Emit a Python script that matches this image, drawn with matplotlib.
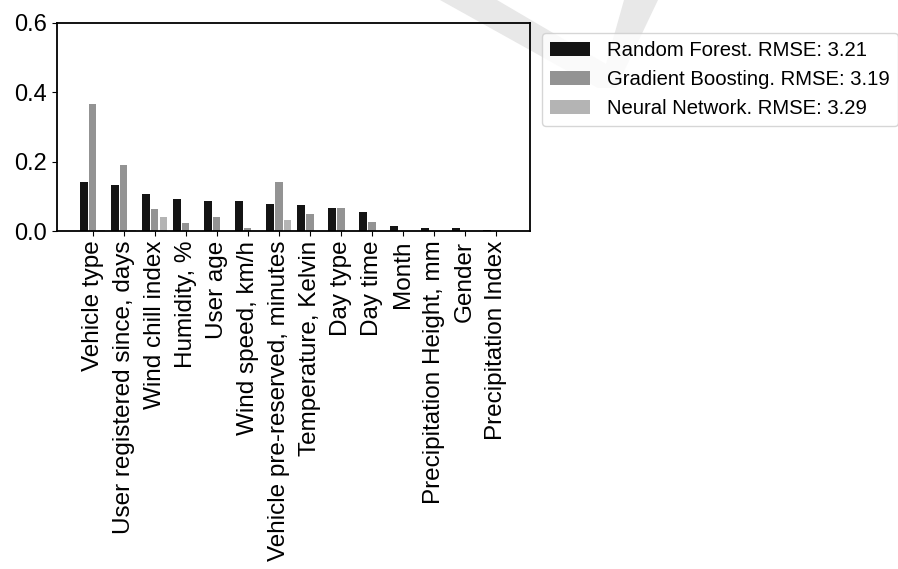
import numpy as np
import matplotlib
matplotlib.use("Agg")
import matplotlib.pyplot as plt
from matplotlib.patches import Polygon

plt.rcParams['font.family'] = ['Liberation Sans', 'DejaVu Sans']

# feature importances
features = ["Vehicle type", "User registered since, days", "Wind chill index",
            "Humidity, %", "User age", "Wind speed, km/h",
            "Vehicle pre-reserved, minutes", "Temperature, Kelvin", "Day type",
            "Day time", "Month", "Precipitation Height, mm", "Gender",
            "Precipitation Index"]
random_forest = [0.141, 0.133, 0.106, 0.093, 0.086, 0.086, 0.078, 0.074,
                 0.067, 0.055, 0.015, 0.008, 0.008, 0.004]
gradient_boosting = [0.365, 0.189, 0.063, 0.022, 0.039, 0.008, 0.141, 0.048,
                     0.067, 0.025, 0.0, 0.0, 0.0, 0.0]
neural_network = [0.002, 0.002, 0.039, 0.0, 0.0, 0.0, 0.031, 0.0,
                  0.0, 0.0, 0.0, 0.0, 0.0, 0.0]
labels = ["Random Forest. RMSE: 3.21", "Gradient Boosting. RMSE: 3.19",
          "Neural Network. RMSE: 3.29"]

fig = plt.figure(figsize=(8.98, 5.69), dpi=100)

# faint watermark behind the chart
W, H = 898.0, 569.0
wm = [(440, 0), (497, 0), (606, 64), (624, 0), (658, 0), (616, 88), (598, 88)]
fig.patches.append(Polygon([(x / W, 1 - y / H) for x, y in wm], closed=True,
                           transform=fig.transFigure, facecolor='#e8e8e8',
                           edgecolor='none', zorder=-5))

ax = fig.add_axes([0.0635, 0.594, 0.5267, 0.366])
ax.patch.set_alpha(0)

x = np.arange(len(features))
w = 0.24
ax.bar(x - 0.28, random_forest, w, color='#141414', label=labels[0])
ax.bar(x, gradient_boosting, w, color='#939393', label=labels[1])
ax.bar(x + 0.28, neural_network, w, color='#b4b4b4', label=labels[2])

ax.set_xlim(-1.15, 14.1)
ax.set_ylim(0, 0.6)
ax.set_yticks([0, 0.2, 0.4, 0.6])
ax.set_yticklabels(["0.0", "0.2", "0.4", "0.6"], fontsize=17)
ax.set_xticks(x)
ax.set_xticklabels(features, rotation=90, fontsize=17.5)
for s in ax.spines.values():
    s.set_linewidth(1.3)

ax.legend(loc='upper left', bbox_to_anchor=(1.025, 0.952), borderaxespad=0,
          fontsize=14.6)

fig.savefig("out.png", dpi=100)
